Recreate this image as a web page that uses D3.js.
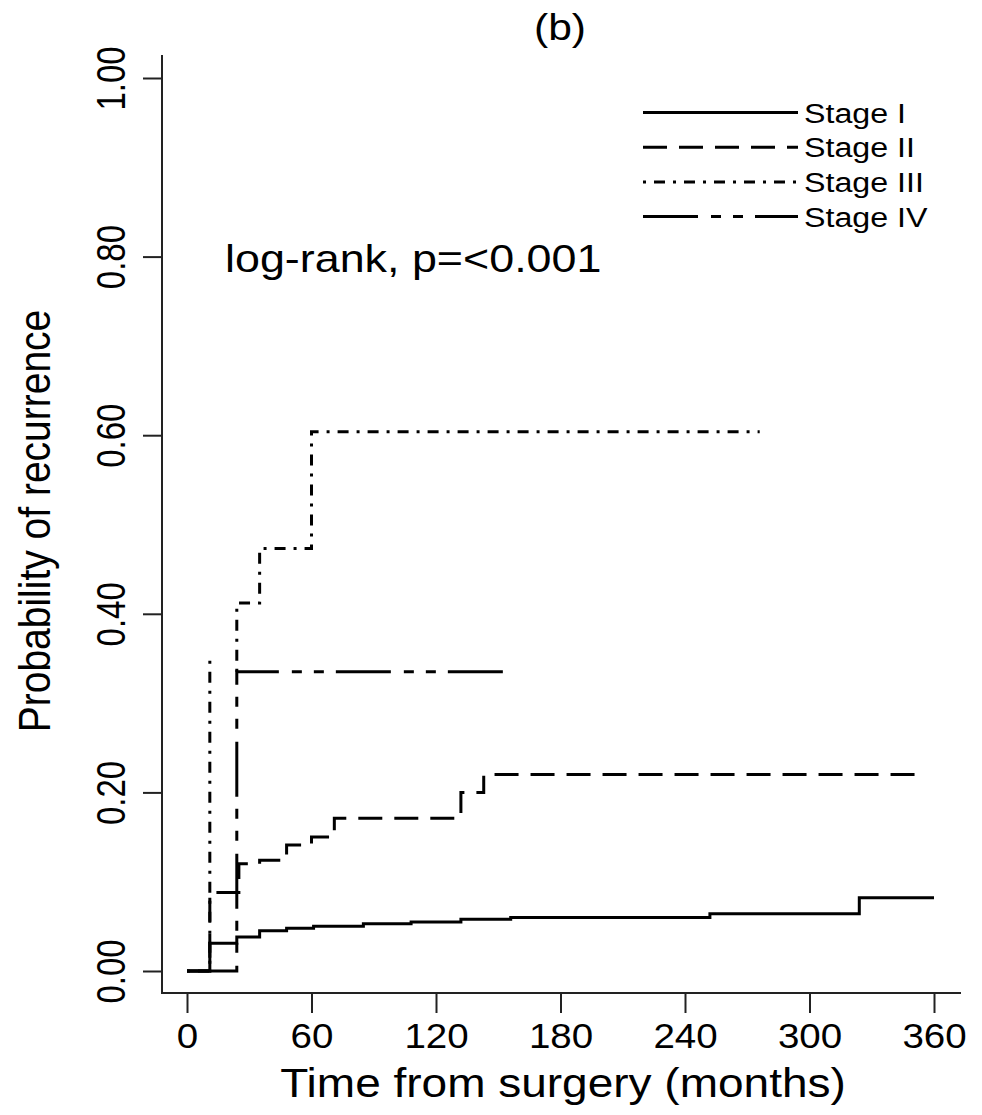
<!DOCTYPE html>
<html>
<head>
<meta charset="utf-8">
<script src="https://d3js.org/d3.v7.min.js"></script>
<style>
  body { margin: 0; background: #fff; }
  svg { display: block; }
  text { font-family: "Liberation Sans", Arial, sans-serif; fill: #000; }
</style>
</head>
<body>
<div id="chart"></div>
<script>
// data (months, cumulative probability of recurrence)
const seriesNames = ["Stage I", "Stage II", "Stage III", "Stage IV"];

const stage1Times  = [0, 11, 24, 35, 48, 61, 85, 108, 132, 156, 252, 324, 360];
const stage1Values = [0, 0.031, 0.038, 0.045, 0.048, 0.050, 0.053, 0.055, 0.058, 0.060, 0.064, 0.082, 0.082];

const stage2Times  = [0, 11, 25, 35, 48, 60, 71, 132, 143, 354];
const stage2Values = [0, 0.088, 0.120, 0.124, 0.141, 0.150, 0.171, 0.200, 0.220, 0.220];

// null = break in the drawn curve (as in the original)
const stage3Times  = [0, 11, 11, 24, 24, 35, 60, 276];
const stage3Values = [0, 0.352, null, 0.335, 0.412, 0.473, 0.604, 0.604];

const stage4Times  = [0, 24, 156];
const stage4Values = [0, 0.335, 0.335];

const xTicks = [0, 60, 120, 180, 240, 300, 360];
const yTicks = [0, 0.2, 0.4, 0.6, 0.8, 1.0];

const pTitle = "(b)";
const pNote = "log-rank, p=<0.001";
const xTitle = "Time from surgery (months)";
const yTitle = "Probability of recurrence";

// the original picture is a bit wider than tall, stretch text to match
const sx = 1.15;

const W = 982, H = 1115;
const svg = d3.select("#chart").append("svg")
    .attr("width", W)
    .attr("height", H);

const x = d3.scaleLinear().domain([0, 360]).range([187, 934]);
const y = d3.scaleLinear().domain([0, 1]).range([971, 78]);

const dashes = ["none", "24,12", "3,8,11,8", "55,13,10,12,10,12"];

const series = [
  {times: stage1Times, values: stage1Values},
  {times: stage2Times, values: stage2Values},
  {times: stage3Times, values: stage3Values},
  {times: stage4Times, values: stage4Values}
].map((s, i) => ({
  name: seriesNames[i],
  dash: dashes[i],
  points: s.times.map((t, j) => ({t: t, v: s.values[j]}))
}));

// axes (R style: bty = "l")
const axisG = svg.append("g").attr("stroke", "#222").attr("stroke-width", 2);
axisG.append("line")
    .attr("x1", 162).attr("x2", 162)
    .attr("y1", 55).attr("y2", 994);
axisG.append("line")
    .attr("x1", 161).attr("x2", 961)
    .attr("y1", 993).attr("y2", 993);

const xAxis = svg.append("g")
    .attr("transform", "translate(0,993)")
    .call(d3.axisBottom(x).tickValues(xTicks).tickSize(20).tickFormat(d3.format("d")));
xAxis.select(".domain").remove();
xAxis.selectAll(".tick line").attr("stroke", "#222").attr("stroke-width", 2);
xAxis.selectAll(".tick text")
    .attr("y", 0).attr("dy", null)
    .attr("font-size", 35)
    .attr("font-family", "Liberation Sans, Arial, sans-serif")
    .attr("transform", "translate(0,55) scale(1.1,1)");

const yAxis = svg.append("g")
    .attr("transform", "translate(162,0)")
    .call(d3.axisLeft(y).tickValues(yTicks).tickSize(19).tickFormat(d3.format(".2f")));
yAxis.select(".domain").remove();
yAxis.selectAll(".tick line").attr("stroke", "#222").attr("stroke-width", 2);
yAxis.selectAll(".tick text")
    .attr("x", 0).attr("y", 0).attr("dy", null)
    .attr("font-size", 33)
    .attr("font-family", "Liberation Sans, Arial, sans-serif")
    .attr("text-anchor", "middle")
    .attr("transform", "translate(-37,0) rotate(-90) scale(1,1.25)");

// curves
const line = d3.line()
    .defined(d => d.v !== null)
    .x(d => x(d.t))
    .y(d => y(d.v))
    .curve(d3.curveStepAfter);

svg.append("g").selectAll("path")
  .data(series)
  .join("path")
    .attr("d", d => line(d.points))
    .attr("fill", "none")
    .attr("stroke", "#000")
    .attr("stroke-width", 3)
    .attr("stroke-dasharray", d => d.dash);

// legend
const legend = svg.append("g");
series.forEach((s, i) => {
  const ly = 112.5 + i * 34.7;
  legend.append("line")
      .attr("x1", 643).attr("x2", 798)
      .attr("y1", ly).attr("y2", ly)
      .attr("stroke", "#000")
      .attr("stroke-width", 3)
      .attr("stroke-dasharray", s.dash);
  legend.append("text")
      .attr("transform", `translate(804,${ly + 10}) scale(${sx},1)`)
      .attr("font-size", 28)
      .text(s.name);
});

// texts
svg.append("text")
    .attr("transform", `translate(560,40) scale(${sx},1)`)
    .attr("text-anchor", "middle")
    .attr("font-size", 37)
    .text(pTitle);

svg.append("text")
    .attr("transform", `translate(225,272) scale(${sx},1)`)
    .attr("font-size", 39)
    .text(pNote);

svg.append("text")
    .attr("transform", `translate(563,1097) scale(${sx},1)`)
    .attr("text-anchor", "middle")
    .attr("font-size", 40)
    .text(xTitle);

svg.append("text")
    .attr("transform", `translate(50,521) rotate(-90) scale(1,${sx})`)
    .attr("text-anchor", "middle")
    .attr("font-size", 39)
    .text(yTitle);
</script>
</body>
</html>
